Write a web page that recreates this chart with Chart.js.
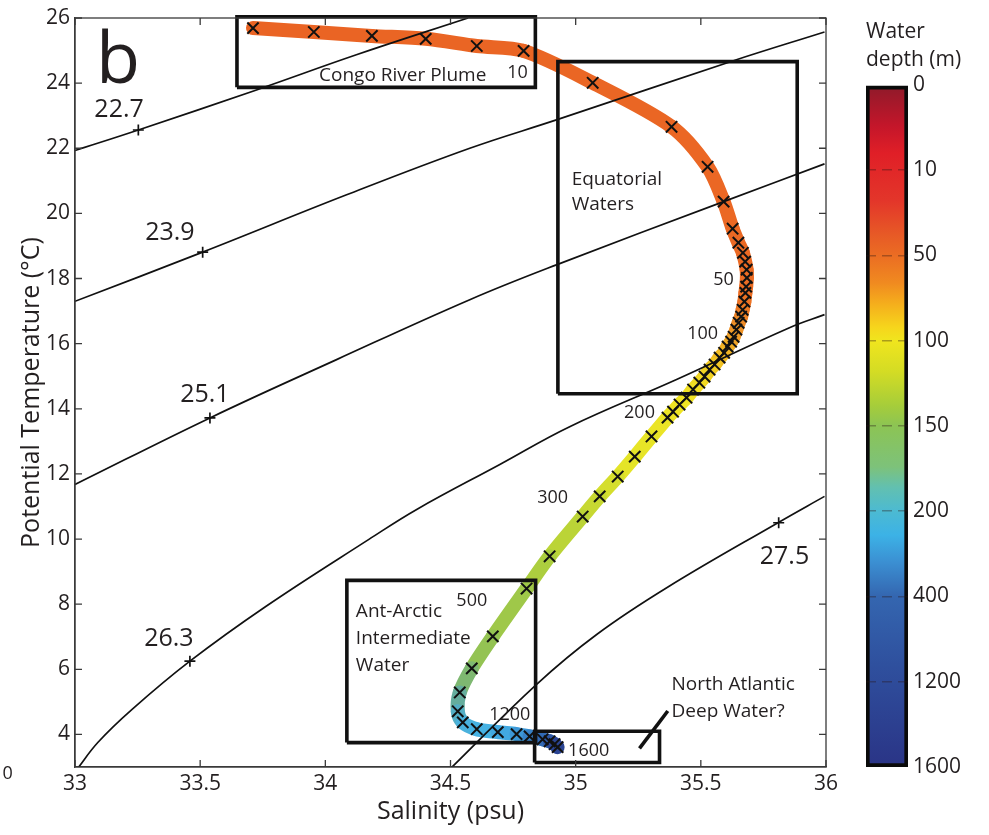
<!DOCTYPE html>
<html><head><meta charset="utf-8">
<script src="https://cdn.jsdelivr.net/npm/chart.js@4"></script>
<style>
html,body{margin:0;padding:0;background:#fff;}
#wrap{position:relative;width:989px;height:835px;overflow:hidden;}
#main{position:absolute;left:0;top:0;}
#cbar{position:absolute;left:840px;top:0;}
</style></head><body>
<div id="wrap"><canvas id="main" width="850" height="835"></canvas><canvas id="cbar" width="149" height="835"></canvas></div>
<script>
// ---------- data ----------
const salinity = [33.711, 33.954, 34.186, 34.401, 34.605, 34.792, 35.068, 35.383, 35.527, 35.591, 35.627, 35.650, 35.668, 35.677, 35.683, 35.684, 35.681, 35.678, 35.674, 35.667, 35.661, 35.651, 35.642, 35.631, 35.621, 35.607, 35.593, 35.575, 35.555, 35.535, 35.515, 35.494, 35.469, 35.443, 35.415, 35.389, 35.367, 35.303, 35.236, 35.168, 35.096, 35.028, 34.896, 34.804, 34.669, 34.585, 34.537, 34.529, 34.549, 34.605, 34.689, 34.764, 34.816, 34.868, 34.896, 34.916, 34.928];
const temperature = [25.69, 25.57, 25.45, 25.36, 25.14, 24.99, 24.01, 22.66, 21.43, 20.36, 19.53, 19.10, 18.79, 18.52, 18.27, 18.02, 17.75, 17.56, 17.29, 17.04, 16.83, 16.64, 16.43, 16.21, 16.06, 15.91, 15.72, 15.57, 15.36, 15.20, 14.99, 14.80, 14.59, 14.34, 14.13, 13.91, 13.73, 13.15, 12.53, 11.92, 11.31, 10.69, 9.47, 8.48, 7.01, 6.03, 5.29, 4.71, 4.37, 4.16, 4.07, 4.01, 3.94, 3.85, 3.79, 3.70, 3.61];
const depth = [1, 2, 4, 6, 8, 10, 14, 18, 22, 26, 30, 34, 38, 42, 46, 50, 57, 64, 71, 78, 85, 92, 100, 108, 116, 124, 132, 140, 148, 156, 164, 172, 180, 186, 193, 200, 210, 230, 250, 270, 300, 350, 420, 500, 600, 700, 800, 900, 1000, 1100, 1200, 1280, 1360, 1440, 1500, 1550, 1600];

const isoLabels = ['22.7', '23.9', '25.1', '26.3', '27.5'];
const iso227S = [33.0, 33.253, 33.725, 34.124, 34.57];
const iso227T = [21.93, 22.56, 23.79, 24.87, 26.0];
const iso239S = [33.0, 33.51, 34.085, 34.577, 34.923, 35.627, 35.994];
const iso239T = [17.30, 18.81, 20.57, 22.0, 22.87, 24.68, 25.57];
const iso251S = [33.0, 33.539, 34.045, 34.577, 34.923, 35.591, 35.994];
const iso251T = [11.675, 13.72, 15.51, 17.35, 18.42, 20.36, 21.52];
const iso263S = [33.008, 33.092, 33.228, 33.459, 33.762, 34.174, 34.365, 34.697, 34.976, 35.403, 35.854, 35.994];
const iso263T = [2.93, 3.76, 4.77, 6.25, 7.93, 9.99, 10.91, 12.29, 13.45, 14.90, 16.49, 16.89];
const iso275S = [34.501, 34.844, 35.084, 35.367, 35.810, 35.994];
const iso275T = [2.96, 5.54, 7.07, 8.52, 10.51, 11.31];
const isoMarkS = [33.253, 33.51, 33.539, 33.459, 35.811];
const isoMarkT = [22.56, 18.81, 13.72, 6.25, 10.50];

// boxes: [S min, S max, T min, T max]
const boxCongo = [33.647, 34.839, 23.87, 26.04];
const boxEquatorial = [34.929, 35.885, 14.46, 24.66];
const boxAAIW = [34.086, 34.840, 3.75, 8.73];
const boxNADW = [34.836, 35.335, 3.14, 4.10];
const pointerS = [35.255, 35.368];
const pointerT = [3.57, 4.72];

const xTicks = [33, 33.5, 34, 34.5, 35, 35.5, 36];
const yTicks = [4, 6, 8, 10, 12, 14, 16, 18, 20, 22, 24, 26];
const cbTicks = ['0', '10', '50', '100', '150', '200', '400', '1200', '1600'];

// ---------- colours ----------
const lineStops = [[0,'#ea6424'],[70,'#ec6e24'],[110,'#ee9a28'],[160,'#f2ce22'],[190,'#f0e424'],[260,'#e4e428'],[300,'#ccda30'],[420,'#b4d23a'],[500,'#a4ca44'],[700,'#8ec058'],[800,'#6eb08a'],[900,'#5caab0'],[1000,'#4cb2da'],[1200,'#44b2e6'],[1360,'#3a8ed0'],[1500,'#3060ac'],[1600,'#283a8a']];
const cbStops = [[0,'#8e1a2a'],[0.06,'#c4162a'],[0.1,'#e01f27'],[0.17,'#e3362a'],[0.22,'#e75a26'],[0.25,'#eb6d23'],[0.29,'#f08a20'],[0.32,'#f5ad1c'],[0.355,'#f6d51c'],[0.375,'#f0e51e'],[0.42,'#d4dc24'],[0.47,'#a6cd3a'],[0.5,'#8cc454'],[0.56,'#7dc27a'],[0.59,'#62c0b0'],[0.625,'#4cbad2'],[0.66,'#3cb2e6'],[0.7,'#3b8fd2'],[0.75,'#3466b0'],[0.85,'#2f509e'],[1,'#2a3486']];

function hex2rgb(h){return [parseInt(h.slice(1,3),16),parseInt(h.slice(3,5),16),parseInt(h.slice(5,7),16)];}
function lineColorAt(d){
  if (d <= lineStops[0][0]) return lineStops[0][1];
  for (let i=1;i<lineStops.length;i++){
    if (d <= lineStops[i][0]){
      const [d0,c0]=lineStops[i-1],[d1,c1]=lineStops[i];
      const t=(d-d0)/(d1-d0), a=hex2rgb(c0), b=hex2rgb(c1);
      return `rgb(${a.map((v,k)=>Math.round(v+(b[k]-v)*t)).join(',')})`;
    }
  }
  return lineStops[lineStops.length-1][1];
}

const pts = (S,T) => S.map((s,i)=>({x:s,y:T[i]}));
const rect = b => [{x:b[0],y:b[2]},{x:b[1],y:b[2]},{x:b[1],y:b[3]},{x:b[0],y:b[3]},{x:b[0],y:b[2]}];

Chart.defaults.font.family = "'Open Sans', sans-serif";
Chart.defaults.color = '#231f20';

const isoStyle = {type:'line', showLine:true, borderColor:'#111', borderWidth:1.7, pointRadius:0, tension:0.4, fill:false, order:2};
const boxStyle = {type:'line', showLine:true, borderColor:'#111', borderWidth:3.6, pointRadius:0, tension:0, fill:false, clip:false, order:1, borderJoinStyle:'miter'};

const framePlugin = {
  id:'frame',
  afterDatasetsDraw(chart){
    const {ctx, chartArea:{left,right,top,bottom}, scales:{x,y}} = chart;
    ctx.save();
    ctx.strokeStyle = '#3a3a3a'; ctx.lineWidth = 1.3;
    ctx.strokeRect(left, top, right-left, bottom-top);
    const L = 7;
    ctx.beginPath();
    x.ticks.forEach(t=>{const p=x.getPixelForValue(t.value); ctx.moveTo(p,bottom); ctx.lineTo(p,bottom-L); ctx.moveTo(p,top); ctx.lineTo(p,top+L);});
    y.ticks.forEach(t=>{const p=y.getPixelForValue(t.value); ctx.moveTo(left,p); ctx.lineTo(left+L,p); ctx.moveTo(right,p); ctx.lineTo(right-L,p);});
    ctx.stroke();
    ctx.restore();
  }
};
const textPlugin = {
  id:'texts',
  afterDraw(chart, args, opts){
    const {ctx, scales:{x,y}} = chart;
    ctx.save();
    opts.items.forEach(it=>{
      ctx.font = `${it.size}px 'Open Sans', sans-serif`;
      ctx.fillStyle = '#231f20';
      ctx.textAlign = it.align || 'center';
      ctx.textBaseline = it.baseline || 'middle';
      ctx.fillText(it.text, x.getPixelForValue(it.s), y.getPixelForValue(it.t));
    });
    ctx.restore();
  }
};

new Chart(document.getElementById('main'), {
  type:'scatter',
  data:{datasets:[
    {type:'line', showLine:true, data:pts(salinity,temperature), borderWidth:14, borderCapStyle:'round', borderJoinStyle:'round', tension:0.3, order:3,
     borderColor:'#ea6424',
     segment:{borderColor: c => lineColorAt((depth[c.p0DataIndex]+depth[c.p1DataIndex])/2)},
     pointStyle:'crossRot', pointRadius:8, pointBorderWidth:2, pointBorderColor:'#111', pointBackgroundColor:'rgba(0,0,0,0)'},
    {...isoStyle, data:pts(iso227S,iso227T)},
    {...isoStyle, data:pts(iso239S,iso239T)},
    {...isoStyle, data:pts(iso251S,iso251T)},
    {...isoStyle, data:pts(iso263S,iso263T)},
    {...isoStyle, data:pts(iso275S,iso275T)},
    {type:'scatter', data:pts(isoMarkS,isoMarkT), pointStyle:'cross', pointRadius:5.5, pointBorderWidth:1.7, pointBorderColor:'#111', order:0},
    {...boxStyle, data:rect(boxCongo)},
    {...boxStyle, data:rect(boxEquatorial)},
    {...boxStyle, data:rect(boxAAIW)},
    {...boxStyle, data:rect(boxNADW)},
    {...boxStyle, borderCapStyle:'butt', data:pts(pointerS,pointerT)}
  ]},
  options:{
    responsive:false, animation:false, events:[],
    layout:{padding:{left:0,right:24,top:18,bottom:0}},
    plugins:{legend:{display:false}, tooltip:{enabled:false},
      texts:{items:[
        {text:'b', s:33.084, t:24.006, size:72, align:'left', baseline:'alphabetic'},
        {text:'Congo River Plume', s:34.309, t:24.236, size:19},
        {text:'10', s:34.768, t:24.313, size:18},
        {text:'Equatorial', s:34.984, t:21.03, size:19, align:'left'},
        {text:'Waters', s:34.984, t:20.264, size:19, align:'left'},
        {text:'50', s:35.591, t:17.963, size:18},
        {text:'100', s:35.507, t:16.307, size:18},
        {text:'200', s:35.255, t:13.883, size:18},
        {text:'300', s:34.908, t:11.276, size:18},
        {text:'500', s:34.585, t:8.086, size:18},
        {text:'Ant-Arctic', s:34.122, t:7.779, size:19, align:'left'},
        {text:'Intermediate', s:34.122, t:6.951, size:19, align:'left'},
        {text:'Water', s:34.122, t:6.123, size:19, align:'left'},
        {text:'1200', s:34.737, t:4.589, size:18},
        {text:'1600', s:35.052, t:3.485, size:18},
        {text:'North Atlantic', s:35.383, t:5.54, size:19, align:'left'},
        {text:'Deep Water?', s:35.383, t:4.712, size:19, align:'left'},
        {text:isoLabels[0], s:33.176, t:23.178, size:25},
        {text:isoLabels[1], s:33.379, t:19.405, size:25},
        {text:isoLabels[2], s:33.519, t:14.436, size:25},
        {text:isoLabels[3], s:33.375, t:6.92, size:25},
        {text:isoLabels[4], s:35.834, t:9.466, size:25},
        {text:'0', s:32.71, t:2.78, size:18, align:'left'}
      ]}
    },
    scales:{
      x:{type:'linear', min:33, max:36,
         afterBuildTicks:s=>{s.ticks = xTicks.map(v=>({value:v}));},
         afterFit:s=>{s.height = 68;},
         ticks:{font:{size:21}, padding:4, maxRotation:0, callback:v=>String(v)},
         grid:{display:false, drawTicks:false},
         border:{display:true, color:'#3a3a3a', width:1.3},
         title:{display:true, text:'Salinity (psu)', font:{size:25}, padding:{top:0,bottom:8}}},
      y:{type:'linear', min:3, max:26,
         afterBuildTicks:s=>{s.ticks = yTicks.map(v=>({value:v}));},
         afterFit:s=>{s.width = 75;},
         ticks:{font:{size:21}, padding:5, callback:v=>String(v)},
         grid:{display:false, drawTicks:false},
         border:{display:true, color:'#3a3a3a', width:1.3},
         title:{display:true, text:'Potential Temperature (°C)', font:{size:25}, padding:{top:17,bottom:0}}}
    }
  },
  plugins:[framePlugin, textPlugin]
});

// ---------- colour bar ----------
new Chart(document.getElementById('cbar'), {
  type:'bar',
  data:{labels:['depth'], datasets:[{
    data:[[0, cbTicks.length-1]],
    backgroundColor:(c)=>{
      const ch=c.chart, ca=ch.chartArea; if(!ca) return '#888';
      const g=ch.ctx.createLinearGradient(0,ca.top,0,ca.bottom);
      cbStops.forEach(([p,col])=>g.addColorStop(p,col));
      return g;
    },
    borderColor:'#0a0a0a', borderWidth:4, borderSkipped:false,
    categoryPercentage:1, barPercentage:1
  }]},
  options:{
    responsive:false, animation:false, events:[],
    layout:{padding:{left:26,right:0,top:0,bottom:68}},
    plugins:{legend:{display:false}, tooltip:{enabled:false},
      title:{display:true, text:['Water','depth (m)'], align:'start', color:'#231f20',
        font:{size:21, weight:'normal', lineHeight:1.333}, padding:{top:18,bottom:11}}},
    scales:{
      x:{display:false},
      y:{position:'right', reverse:true, min:0, max:cbTicks.length-1,
         afterBuildTicks:s=>{s.ticks = cbTicks.map((_,i)=>({value:i}));},
         afterFit:s=>{s.width = 81;},
         ticks:{font:{size:21}, padding:5, color:'#231f20', callback:(v,i)=>cbTicks[i]},
         grid:{display:true, drawTicks:false, lineWidth:1.5, z:1,
               color:c=>(c.index===0||c.index===cbTicks.length-1)?'rgba(0,0,0,0)':'rgba(40,20,20,0.35)'},
         border:{display:false, dash:[10,6]}}
    }
  }
});
</script>
</body></html>
